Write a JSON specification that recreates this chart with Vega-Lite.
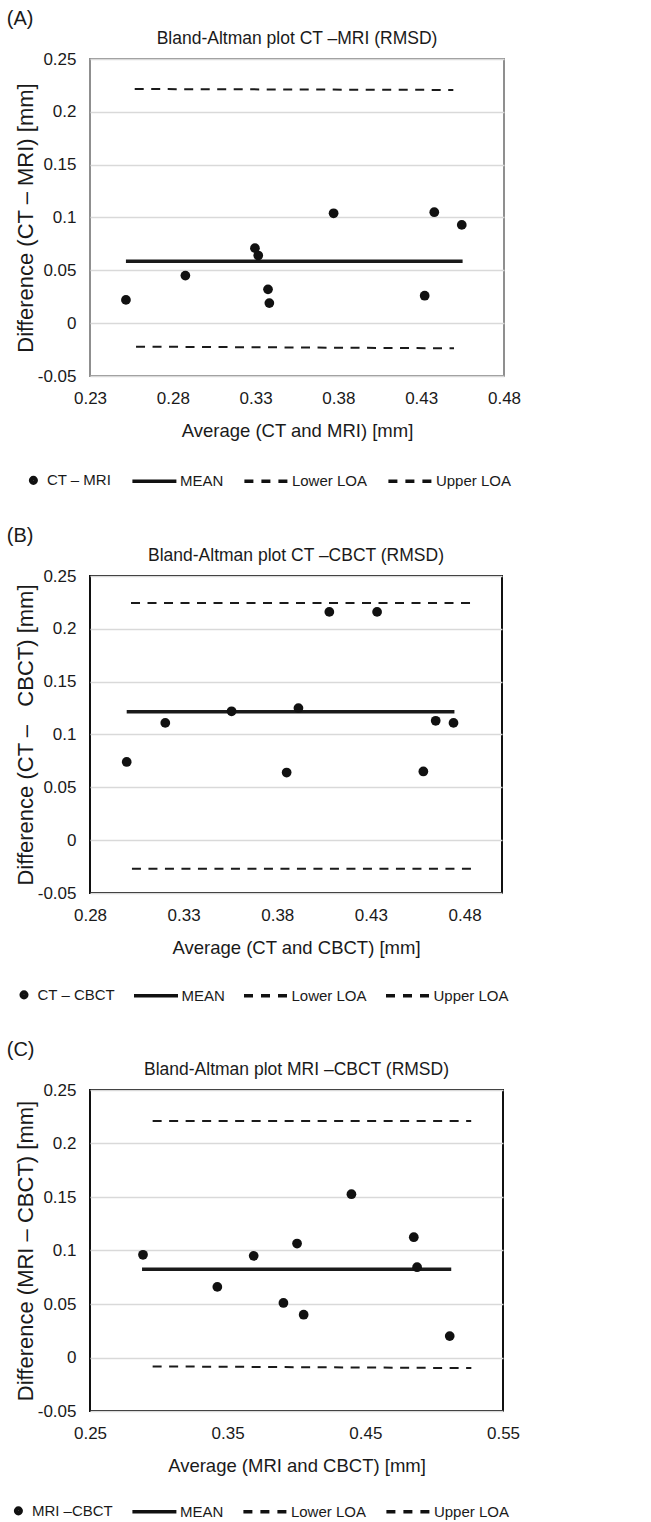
{
  "$schema": "https://vega.github.io/schema/vega-lite/v6.json",
  "padding": {"left": 6, "top": 8, "right": 5, "bottom": 5},
  "background": "white",
  "datasets": {
    "pointsA": [
      {"avg": 0.2517, "diff": 0.022}, {"avg": 0.2876, "diff": 0.045}, {"avg": 0.3296, "diff": 0.071},
      {"avg": 0.3316, "diff": 0.064}, {"avg": 0.3375, "diff": 0.032}, {"avg": 0.3383, "diff": 0.019},
      {"avg": 0.3771, "diff": 0.104}, {"avg": 0.4321, "diff": 0.026}, {"avg": 0.4379, "diff": 0.105},
      {"avg": 0.4545, "diff": 0.093}
    ],
    "linesA": [
      {"series": "MEAN", "avg": 0.2517, "diff": 0.0585}, {"series": "MEAN", "avg": 0.455, "diff": 0.0585},
      {"series": "Upper LOA", "avg": 0.257, "diff": 0.2216}, {"series": "Upper LOA", "avg": 0.4494, "diff": 0.2207},
      {"series": "Lower LOA", "avg": 0.2578, "diff": -0.0222}, {"series": "Lower LOA", "avg": 0.4498, "diff": -0.0238}
    ],
    "pointsB": [
      {"avg": 0.2996, "diff": 0.074}, {"avg": 0.3202, "diff": 0.111}, {"avg": 0.3556, "diff": 0.122},
      {"avg": 0.385, "diff": 0.064}, {"avg": 0.3913, "diff": 0.125}, {"avg": 0.4078, "diff": 0.216},
      {"avg": 0.4333, "diff": 0.216}, {"avg": 0.458, "diff": 0.065}, {"avg": 0.4646, "diff": 0.113},
      {"avg": 0.4741, "diff": 0.111}
    ],
    "linesB": [
      {"series": "MEAN", "avg": 0.2996, "diff": 0.1215}, {"series": "MEAN", "avg": 0.4746, "diff": 0.1215},
      {"series": "Upper LOA", "avg": 0.3019, "diff": 0.2244}, {"series": "Upper LOA", "avg": 0.4853, "diff": 0.2244},
      {"series": "Lower LOA", "avg": 0.3024, "diff": -0.027}, {"series": "Lower LOA", "avg": 0.4858, "diff": -0.027}
    ],
    "pointsC": [
      {"avg": 0.2885, "diff": 0.096}, {"avg": 0.3425, "diff": 0.066}, {"avg": 0.3689, "diff": 0.095},
      {"avg": 0.3905, "diff": 0.051}, {"avg": 0.4004, "diff": 0.1065}, {"avg": 0.4052, "diff": 0.040},
      {"avg": 0.4399, "diff": 0.1526}, {"avg": 0.4852, "diff": 0.1124}, {"avg": 0.4876, "diff": 0.0844},
      {"avg": 0.5113, "diff": 0.020}
    ],
    "linesC": [
      {"series": "MEAN", "avg": 0.2878, "diff": 0.0825}, {"series": "MEAN", "avg": 0.5124, "diff": 0.0825},
      {"series": "Upper LOA", "avg": 0.2955, "diff": 0.221}, {"series": "Upper LOA", "avg": 0.5269, "diff": 0.221},
      {"series": "Lower LOA", "avg": 0.2955, "diff": -0.0083}, {"series": "Lower LOA", "avg": 0.527, "diff": -0.0099}
    ]
  },
  "spacing": 34,
  "resolve": {
    "scale": {"shape": "independent", "x": "independent", "y": "independent"},
    "legend": {"shape": "independent"}
  },
  "vconcat": [
    {
      "title": {"text": "(A)", "fontSize": 20, "anchor": "start", "frame": "bounds", "offset": 0, "dx": -6.5},
      "vconcat": [
        {
          "width": 414, "height": 317,
          "view": {"stroke": "#8f8f8f", "strokeWidth": 2},
          "title": {"text": "Bland-Altman plot CT –MRI (RMSD)"},
          "layer": [
            {
              "data": {"name": "linesA"},
              "transform": [{"filter": "datum.series !== 'MEAN'"}],
              "mark": {"type": "line", "color": "#1a1a1a", "strokeWidth": 2, "strokeDash": [9, 7.5]},
              "encoding": {
                "x": {"field": "avg", "type": "quantitative", "title": "Average (CT and MRI) [mm]",
                  "scale": {"domain": [0.23, 0.48], "nice": false, "zero": false},
                  "axis": {"values": [0.23, 0.28, 0.33, 0.38, 0.43, 0.48], "labelExpr": "'' + datum.value"}},
                "y": {"field": "diff", "type": "quantitative", "title": "Difference (CT – MRI) [mm]",
                  "scale": {"domain": [-0.05, 0.25], "nice": false, "zero": false},
                  "axis": {"values": [-0.05, 0, 0.05, 0.1, 0.15, 0.2, 0.25], "labelExpr": "'' + datum.value"}},
                "detail": {"field": "series"}
              }
            },
            {
              "data": {"name": "linesA"},
              "transform": [{"filter": "datum.series === 'MEAN'"}],
              "mark": {"type": "line", "color": "#1a1a1a", "strokeWidth": 3.5},
              "encoding": {
                "x": {"field": "avg", "type": "quantitative"},
                "y": {"field": "diff", "type": "quantitative"}
              }
            },
            {
              "data": {"name": "pointsA"},
              "mark": {"type": "circle", "size": 95, "color": "#111", "opacity": 1},
              "encoding": {
                "x": {"field": "avg", "type": "quantitative"},
                "y": {"field": "diff", "type": "quantitative"}
              }
            },
            {
              "data": {"values": [{"series": "CT – MRI"}, {"series": "MEAN"}, {"series": "Lower LOA"}, {"series": "Upper LOA"}]},
              "transform": [{"filter": "false"}],
              "mark": {"type": "point", "color": "#111"},
              "encoding": {
                "shape": {"field": "series", "type": "nominal",
                  "scale": {"domain": ["CT – MRI", "MEAN", "Lower LOA", "Upper LOA"],
                    "range": ["M-1.875,0A0.375,0.375,0,1,1,-1.125,0A0.375,0.375,0,1,1,-1.875,0M-2.2,0A0.7,0.7,0,1,1,-0.8,0A0.7,0.7,0,1,1,-2.2,0", "M-10,0H1", "M-10,0H-7.75M-5.75,0H-3.5M-1.5,0H0.75", "M-10,0H-7.75M-5.75,0H-3.5M-1.5,0H0.75"]},
                  "legend": {"orient": "none", "legendX": -58.1, "legendY": 413.5, "columnPadding": 13, "symbolStrokeWidth": 3.5, "symbolStrokeColor": "#111"}
                }
              }
            }
          ]
        }
      ]
    },
    {
      "title": {"text": "(B)", "fontSize": 20, "anchor": "start", "frame": "bounds", "offset": 0, "dx": -6.5},
      "vconcat": [
        {
          "width": 412, "height": 317,
          "view": {"stroke": "#111", "strokeWidth": 2},
          "title": {"text": "Bland-Altman plot CT –CBCT (RMSD)"},
          "layer": [
            {
              "data": {"name": "linesB"},
              "transform": [{"filter": "datum.series !== 'MEAN'"}],
              "mark": {"type": "line", "color": "#1a1a1a", "strokeWidth": 2, "strokeDash": [9, 7.5]},
              "encoding": {
                "x": {"field": "avg", "type": "quantitative", "title": "Average (CT and CBCT) [mm]",
                  "scale": {"domain": [0.28, 0.5], "nice": false, "zero": false},
                  "axis": {"values": [0.28, 0.33, 0.38, 0.43, 0.48], "labelExpr": "'' + datum.value"}},
                "y": {"field": "diff", "type": "quantitative", "title": "Difference (CT –\u00a0\u00a0 CBCT) [mm]",
                  "scale": {"domain": [-0.05, 0.25], "nice": false, "zero": false},
                  "axis": {"values": [-0.05, 0, 0.05, 0.1, 0.15, 0.2, 0.25], "labelExpr": "'' + datum.value"}},
                "detail": {"field": "series"}
              }
            },
            {
              "data": {"name": "linesB"},
              "transform": [{"filter": "datum.series === 'MEAN'"}],
              "mark": {"type": "line", "color": "#1a1a1a", "strokeWidth": 3.5},
              "encoding": {
                "x": {"field": "avg", "type": "quantitative"},
                "y": {"field": "diff", "type": "quantitative"}
              }
            },
            {
              "data": {"name": "pointsB"},
              "mark": {"type": "circle", "size": 95, "color": "#111", "opacity": 1},
              "encoding": {
                "x": {"field": "avg", "type": "quantitative"},
                "y": {"field": "diff", "type": "quantitative"}
              }
            },
            {
              "data": {"values": [{"series": "CT – CBCT"}, {"series": "MEAN"}, {"series": "Lower LOA"}, {"series": "Upper LOA"}]},
              "transform": [{"filter": "false"}],
              "mark": {"type": "point", "color": "#111"},
              "encoding": {
                "shape": {"field": "series", "type": "nominal",
                  "scale": {"domain": ["CT – CBCT", "MEAN", "Lower LOA", "Upper LOA"],
                    "range": ["M-1.875,0A0.375,0.375,0,1,1,-1.125,0A0.375,0.375,0,1,1,-1.875,0M-2.2,0A0.7,0.7,0,1,1,-0.8,0A0.7,0.7,0,1,1,-2.2,0", "M-10,0H1", "M-10,0H-7.75M-5.75,0H-3.5M-1.5,0H0.75", "M-10,0H-7.75M-5.75,0H-3.5M-1.5,0H0.75"]},
                  "legend": {"orient": "none", "legendX": -67.5, "legendY": 411, "columnPadding": 11, "symbolStrokeWidth": 3.5, "symbolStrokeColor": "#111"}
                }
              }
            }
          ]
        }
      ]
    },
    {
      "title": {"text": "(C)", "fontSize": 20, "anchor": "start", "frame": "bounds", "offset": 0, "dx": -6.5},
      "vconcat": [
        {
          "width": 413, "height": 321,
          "view": {"stroke": "#111", "strokeWidth": 2},
          "title": {"text": "Bland-Altman plot MRI –CBCT (RMSD)"},
          "layer": [
            {
              "data": {"name": "linesC"},
              "transform": [{"filter": "datum.series !== 'MEAN'"}],
              "mark": {"type": "line", "color": "#1a1a1a", "strokeWidth": 2, "strokeDash": [9, 7.5]},
              "encoding": {
                "x": {"field": "avg", "type": "quantitative", "title": "Average (MRI and CBCT) [mm]",
                  "scale": {"domain": [0.25, 0.55], "nice": false, "zero": false},
                  "axis": {"values": [0.25, 0.35, 0.45, 0.55], "labelExpr": "'' + datum.value"}},
                "y": {"field": "diff", "type": "quantitative", "title": "Difference (MRI – CBCT) [mm]",
                  "scale": {"domain": [-0.05, 0.25], "nice": false, "zero": false},
                  "axis": {"values": [-0.05, 0, 0.05, 0.1, 0.15, 0.2, 0.25], "labelExpr": "'' + datum.value"}},
                "detail": {"field": "series"}
              }
            },
            {
              "data": {"name": "linesC"},
              "transform": [{"filter": "datum.series === 'MEAN'"}],
              "mark": {"type": "line", "color": "#1a1a1a", "strokeWidth": 3.5},
              "encoding": {
                "x": {"field": "avg", "type": "quantitative"},
                "y": {"field": "diff", "type": "quantitative"}
              }
            },
            {
              "data": {"name": "pointsC"},
              "mark": {"type": "circle", "size": 95, "color": "#111", "opacity": 1},
              "encoding": {
                "x": {"field": "avg", "type": "quantitative"},
                "y": {"field": "diff", "type": "quantitative"}
              }
            },
            {
              "data": {"values": [{"series": "MRI –CBCT"}, {"series": "MEAN"}, {"series": "Lower LOA"}, {"series": "Upper LOA"}]},
              "transform": [{"filter": "false"}],
              "mark": {"type": "point", "color": "#111"},
              "encoding": {
                "shape": {"field": "series", "type": "nominal",
                  "scale": {"domain": ["MRI –CBCT", "MEAN", "Lower LOA", "Upper LOA"],
                    "range": ["M-1.875,0A0.375,0.375,0,1,1,-1.125,0A0.375,0.375,0,1,1,-1.875,0M-2.2,0A0.7,0.7,0,1,1,-0.8,0A0.7,0.7,0,1,1,-2.2,0", "M-10,0H1", "M-10,0H-7.75M-5.75,0H-3.5M-1.5,0H0.75", "M-10,0H-7.75M-5.75,0H-3.5M-1.5,0H0.75"]},
                  "legend": {"orient": "none", "legendX": -73.1, "legendY": 413, "columnPadding": 12, "symbolStrokeWidth": 3.5, "symbolStrokeColor": "#111"}
                }
              }
            }
          ]
        }
      ]
    }
  ],
  "config": {
    "font": "Liberation Sans",
    "title": {"font": "Liberation Sans", "fontSize": 17.5, "fontWeight": "normal", "color": "#1a1a1a", "offset": 3},
    "axis": {
      "labelFont": "Liberation Sans", "labelFontSize": 17, "labelColor": "#1a1a1a",
      "titleFont": "Liberation Sans", "titleFontWeight": "normal", "titleColor": "#1a1a1a",
      "ticks": false, "domain": false, "labelFlush": false
    },
    "axisX": {"grid": false, "labelPadding": 14, "titlePadding": 15, "titleFontSize": 18.5},
    "axisY": {"grid": true, "gridColor": "#d9d9d9", "gridWidth": 1.5, "labelPadding": 14, "titlePadding": 0, "titleFontSize": 22},
    "legend": {
      "title": null, "direction": "horizontal", "columns": 4, "padding": 0,
      "labelFont": "Liberation Sans", "labelFontSize": 15, "labelColor": "#1a1a1a", "labelOffset": 0,
      "symbolSize": 64, "symbolStrokeWidth": 3,
      "symbolStrokeColor": "#111", "symbolOpacity": 1
    }
  }
}
